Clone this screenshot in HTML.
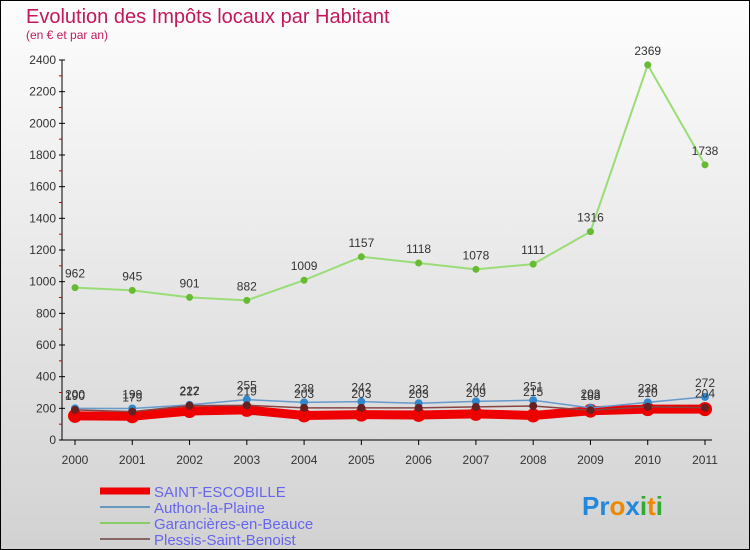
<!DOCTYPE html>
<html><head><meta charset="utf-8"><style>
body{margin:0}
#c{width:750px;height:550px;position:relative;box-sizing:border-box;border:1px solid #000;background:linear-gradient(#fdfdfd,#d2d2d2);overflow:hidden;font-family:"Liberation Sans",sans-serif}
</style></head><body>
<div id="c">
<svg id="s" width="750" height="550" style="position:absolute;left:-1px;top:-1px">
<text x="26" y="23" font-size="20" fill="#c2185b">Evolution des Impôts locaux par Habitant</text>
<text x="26" y="39" font-size="12" fill="#c2185b">(en € et par an)</text>
</svg>
</div>
<script>
const years=["2000","2001","2002","2003","2004","2005","2006","2007","2008","2009","2010","2011"];
const yTicks=[0,200,400,600,800,1000,1200,1400,1600,1800,2000,2200,2400];
const saint=[152,150,183,190,155,160,158,165,155,185,195,195];
const authon=[200,199,222,255,238,242,232,244,251,203,238,272];
const garan=[962,945,901,882,1009,1157,1118,1078,1111,1316,2369,1738];
const plessis=[190,179,217,219,203,203,203,209,215,188,210,204];
const names=["SAINT-ESCOBILLE","Authon-la-Plaine","Garancières-en-Beauce","Plessis-Saint-Benoist"];
const NS="http://www.w3.org/2000/svg",s=document.getElementById('s');
const X=i=>75+i*(630/11), Y=v=>440-v*380/2400;
function el(t,a,p){const e=document.createElementNS(NS,t);for(const k in a)e.setAttribute(k,a[k]);(p||s).appendChild(e);return e;}
let ax=el('line',{x1:62,y1:60,x2:62,y2:440,stroke:'#000'});

let bx=el('line',{x1:62,y1:440,x2:712,y2:440,stroke:'#000'});

yTicks.forEach((v,i)=>{
 el('line',{x1:59,x2:65,y1:Y(v),y2:Y(v),stroke:'#000'});
 if(i<yTicks.length-1)el('line',{x1:59,x2:62,y1:Y(v+100),y2:Y(v+100),stroke:'#c00'});
 const t=el('text',{x:56,y:Y(v)+4,'font-size':12,'text-anchor':'end',fill:'#333'});t.textContent=v;
 
});
years.forEach((y,i)=>{
 el('line',{x1:X(i),x2:X(i),y1:440,y2:445,stroke:'#000'});
 const t=el('text',{x:X(i),y:464,'font-size':12,'text-anchor':'middle',fill:'#333'});t.textContent=y;
 
});
function series(d,col,w,r,dot,name,labels){
 const g=el('g',{});
 el('polyline',{points:d.map((v,i)=>X(i)+','+Y(v)).join(' '),fill:'none',stroke:col,'stroke-width':w},g);
 d.forEach((v,i)=>{const c=el('circle',{cx:X(i),cy:Y(v),r:r,fill:dot},g);
  
  if(labels){const t=el('text',{x:X(i),y:Y(v)-10,'font-size':12,'text-anchor':'middle',fill:'#333'},g);t.textContent=v;}});
}
series(garan,'#99dd77',2,3.5,'#66bb33','series-garancieres',true);
series(saint,'#ee0000',9,7,'#ee0000','series-saint-escobille',false);
series(authon,'#6699cc',1.5,4,'#3388cc','series-authon',true);
series(plessis,'#884444',1.5,4,'#662222','series-plessis',true);
const lc=['#ee0000','#6699bb','#88cc66','#886666'],lw=[7,2,2,2];
names.forEach((n,i)=>{const y=491+i*16;
 const g=el('g',{});
 el('line',{x1:100,x2:150,y1:y,y2:y,stroke:lc[i],'stroke-width':lw[i]},g);
 const t=el('text',{x:154,y:y+6,'font-size':15,fill:'#6666ee'},g);t.textContent=n;});
const p=el('text',{x:582,y:515,'font-size':26,'font-weight':'bold'});

[['Pr','#2288dd'],['o','#ee8800'],['x','#2288dd'],['i','#33aa33'],['t','#ee8800'],['i','#33aa33']].forEach(([c,f])=>{el('tspan',{fill:f},p).textContent=c;});
</script>
</body></html>
